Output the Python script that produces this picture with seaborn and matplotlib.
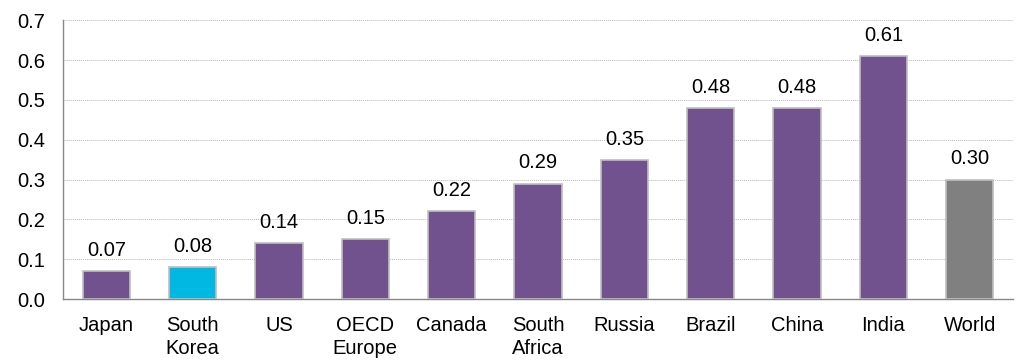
import matplotlib
matplotlib.use("Agg")
import matplotlib.pyplot as plt
import seaborn as sns
import pandas as pd
from matplotlib.ticker import FixedLocator

regions = ["Japan", "South\nKorea", "US", "OECD\nEurope", "Canada", "South\nAfrica",
           "Russia", "Brazil", "China", "India", "World"]
values = [0.07, 0.08, 0.14, 0.15, 0.22, 0.29, 0.35, 0.48, 0.48, 0.61, 0.30]
purple = "#71528F"
bar_colors = [purple, "#00B8E2", purple, purple, purple, purple, purple, purple,
              purple, purple, "#808080"]

sns.set_theme(style="white")
plt.rcParams["font.family"] = ["Liberation Sans", "DejaVu Sans"]

df = pd.DataFrame({"region": regions, "value": values})

fig = plt.figure(figsize=(10.18, 3.6), dpi=100)
ax = fig.add_axes([0.062, 0.169, 0.933, 0.775])

sns.barplot(data=df, x="region", y="value", hue="region", palette=bar_colors,
            legend=False, width=0.55, edgecolor="#BFBFBF", linewidth=1.2,
            saturation=1, ax=ax, zorder=3)

for patch, v in zip(ax.patches, values):
    ax.annotate(f"{v:.2f}", (patch.get_x() + patch.get_width() / 2, v),
                xytext=(0, 8), textcoords="offset points",
                ha="center", va="bottom", fontsize=14.5, color="black")

ax.set_ylim(0, 0.7)
ax.set_xlim(-0.5, len(regions) - 0.5)
ax.set_yticks([i / 10 for i in range(8)])
ax.set_yticklabels([f"{i / 10:.1f}" for i in range(8)])
ax.yaxis.grid(True, color="#B8B8B8", linestyle=(0, (1, 1)), linewidth=0.7, zorder=0)
ax.set_axisbelow(True)

ax.set_xlabel("")
ax.set_ylabel("")
ax.tick_params(axis="x", which="major", length=0, labelsize=14.5, pad=12, labelcolor="black")
for lbl in ax.get_xticklabels():
    lbl.set_linespacing(1.3)
ax.xaxis.set_minor_locator(FixedLocator([i + 0.5 for i in range(-1, len(regions))]))
ax.tick_params(axis="x", which="minor", length=5, color="#888888", width=1, direction="out")
ax.tick_params(axis="y", length=5, color="#888888", width=1, direction="out",
               labelsize=14.5, pad=8, labelcolor="black")

for side in ["top", "right"]:
    ax.spines[side].set_visible(False)
for side in ["left", "bottom"]:
    ax.spines[side].set_color("#888888")
    ax.spines[side].set_linewidth(1)

fig.savefig("out.png", dpi=100, facecolor="white")
